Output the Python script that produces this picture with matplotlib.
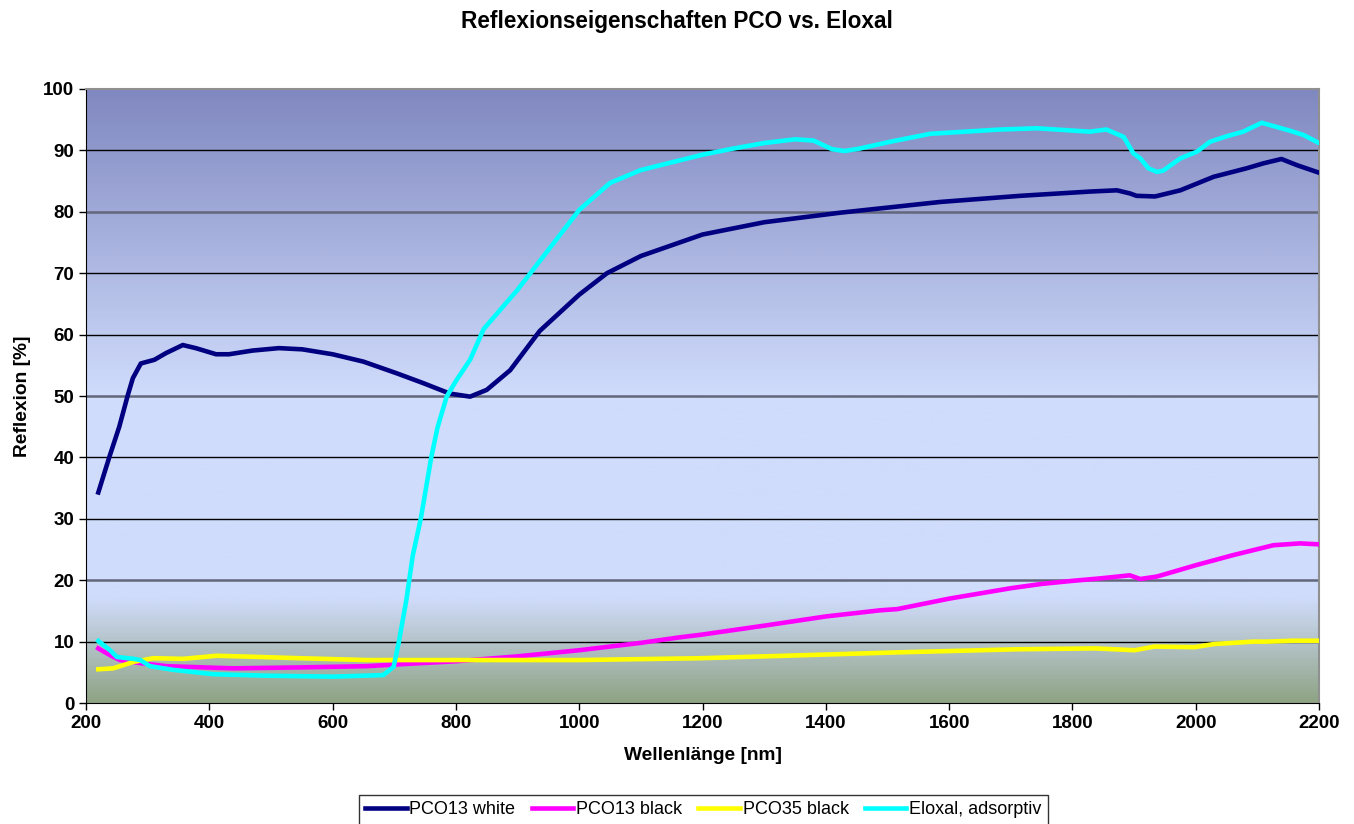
import matplotlib.pyplot as plt
import numpy as np
from matplotlib.colors import LinearSegmentedColormap

plt.rcParams['font.family'] = ['Liberation Sans', 'DejaVu Sans']

# PCO13 white
wl_white = [220, 238, 254, 268, 276, 289, 311, 330, 357, 378, 411, 432, 470, 513, 551,
            600, 650, 704, 747, 790, 823, 850, 888, 936, 1000, 1045, 1100, 1200, 1300,
            1423, 1585, 1715, 1829, 1872, 1893, 1904, 1934, 1975, 2029, 2083, 2110,
            2139, 2164, 2199]
r_white = [34.3, 40.1, 45.0, 50.2, 52.9, 55.3, 55.9, 57.0, 58.3, 57.8, 56.8, 56.8, 57.4, 57.8, 57.6,
           56.8, 55.6, 53.7, 52.1, 50.4, 49.9, 51.0, 54.2, 60.6, 66.5, 70.0, 72.8, 76.3, 78.3,
           79.85, 81.6, 82.6, 83.3, 83.5, 83.0, 82.6, 82.5, 83.5, 85.7, 87.1, 87.9,
           88.6, 87.6, 86.4]

# PCO13 black
wl_black13 = [220, 239, 255, 288, 331, 439, 547, 655, 707, 800, 900, 1000, 1100, 1163, 1196,
              1300, 1400, 1488, 1516, 1600, 1700, 1750, 1800, 1845, 1893, 1910, 1937, 2002,
              2061, 2126, 2169, 2199]
r_black13 = [8.9, 7.8, 7.0, 6.5, 6.0, 5.65, 5.8, 6.0, 6.3, 6.8, 7.6, 8.6, 9.8, 10.7, 11.1,
             12.6, 14.1, 15.1, 15.3, 17.0, 18.7, 19.4, 19.9, 20.3, 20.8, 20.2, 20.6, 22.5,
             24.1, 25.7, 26.0, 25.85]

# PCO35 black
wl_black35 = [220, 244, 277, 309, 358, 412, 466, 547, 655, 707, 900, 1000, 1196, 1300, 1516,
              1709, 1837, 1901, 1933, 1998, 2029, 2093, 2115, 2158, 2199]
r_black35 = [5.5, 5.65, 6.7, 7.3, 7.2, 7.7, 7.55, 7.3, 7.0, 7.0, 7.0, 7.0, 7.3, 7.6, 8.25,
             8.75, 8.9, 8.6, 9.2, 9.1, 9.6, 10.0, 10.0, 10.15, 10.15]

# Eloxal, adsorptiv
wl_elox = [220, 239, 250, 277, 288, 304, 342, 406, 493, 601, 682, 699, 707, 720, 730, 743,
           760, 770, 785, 801, 823, 845, 900, 950, 1000, 1050, 1100, 1200, 1250, 1300, 1350,
           1380, 1410, 1430, 1455, 1504, 1569, 1683, 1742, 1828, 1855, 1883, 1899, 1910,
           1923, 1937, 1947, 1975, 2002, 2023, 2050, 2077, 2107, 2121, 2153, 2175, 2199]
r_elox = [10.1, 8.6, 7.5, 7.2, 7.0, 6.0, 5.4, 4.7, 4.45, 4.3, 4.55, 5.9, 9.7, 17.0, 24.0, 30.0,
          40.0, 44.8, 49.9, 52.6, 55.9, 60.9, 67.3, 73.8, 80.3, 84.7, 86.8, 89.3, 90.3, 91.2, 91.8,
          91.6, 90.2, 89.9, 90.3, 91.4, 92.7, 93.4, 93.6, 93.05, 93.4, 92.2, 89.5, 88.7,
          87.1, 86.5, 86.7, 88.7, 89.8, 91.4, 92.3, 93.05, 94.5, 94.1, 93.2, 92.5, 91.25]

fig = plt.figure(figsize=(13.54, 8.24), dpi=100)
ax = fig.add_axes([0.0635, 0.1468, 0.9107, 0.7452])

# background gradient of the plot area
bg = LinearSegmentedColormap.from_list('bg', [(0.0, '#8FA485'), (0.08, '#AEBEBE'),
                                              (0.17, '#D0DCFC'), (0.5, '#D0DCFC'),
                                              (1.0, '#8088C0')])
grad = np.linspace(0, 1, 400).reshape(-1, 1)
ax.imshow(grad, cmap=bg, origin='lower', aspect='auto', extent=[0, 1, 0, 1],
          transform=ax.transAxes, zorder=0)

for v in range(10, 100, 10):
    if v in (20, 50, 80):
        ax.axhline(v, color='#62667A', lw=1.8, zorder=1)
    else:
        ax.axhline(v, color='black', lw=1.0, zorder=1)

ax.plot(wl_white, r_white, color='#000080', lw=3.3, label='PCO13 white', zorder=3)
ax.plot(wl_black13, r_black13, color='#FF00FF', lw=3.3, label='PCO13 black', zorder=3)
ax.plot(wl_black35, r_black35, color='#FFFF00', lw=3.3, label='PCO35 black', zorder=3)
ax.plot(wl_elox, r_elox, color='#00FFFF', lw=3.3, label='Eloxal, adsorptiv', zorder=3)

ax.set_xlim(200, 2200)
ax.set_ylim(0, 100)
ax.set_xticks(range(200, 2201, 200))
ax.set_yticks(range(0, 101, 10))
ax.tick_params(direction='out', length=5, width=1, labelsize=13.5)
for lab in ax.get_xticklabels() + ax.get_yticklabels():
    lab.set_fontweight('bold')
ax.spines['left'].set_color('black')
ax.spines['bottom'].set_color('black')
ax.spines['top'].set_color('#909090')
ax.spines['right'].set_color('#909090')
ax.spines['top'].set_linewidth(1.5)
ax.spines['right'].set_linewidth(1.5)

ax.set_xlabel('Wellenlänge [nm]', fontsize=13.8, fontweight='bold', labelpad=11)
ax.set_ylabel('Reflexion [%]', fontsize=13.8, fontweight='bold', labelpad=9)
fig.suptitle('Reflexionseigenschaften PCO vs. Eloxal', fontsize=16.3, fontweight='bold', y=0.988)

leg = fig.legend(loc='upper center', bbox_to_anchor=(0.5195, 0.035), ncol=4, fontsize=13,
                 frameon=True, fancybox=False, edgecolor='black', handlelength=2.3,
                 handletextpad=0.15, columnspacing=0.9, borderpad=0.35, borderaxespad=0)
leg.get_frame().set_linewidth(1.0)

fig.savefig('out.png', dpi=100)
